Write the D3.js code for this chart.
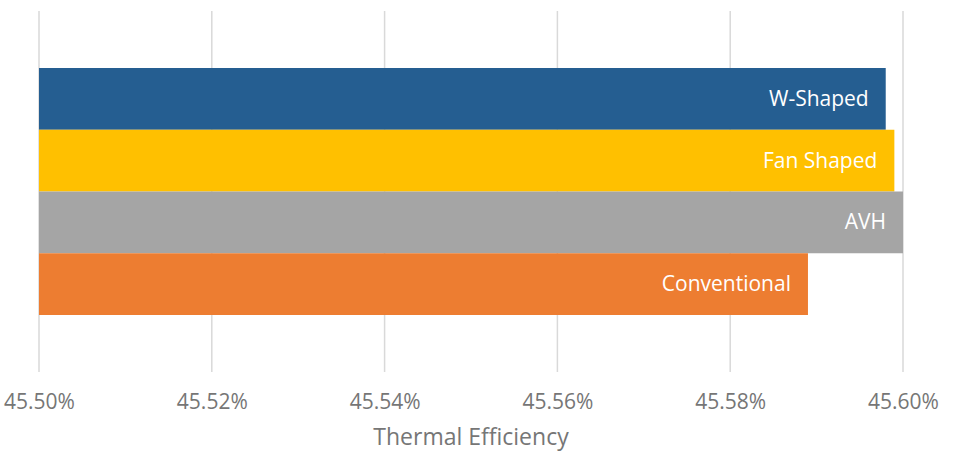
<!DOCTYPE html>
<html>
<head>
<meta charset="utf-8">
<script src="https://cdn.jsdelivr.net/npm/d3@7"></script>
<style>
  body { margin: 0; background: #fff; }
  svg { display: block; font-family: "Open Sans", sans-serif; }
</style>
</head>
<body>
<div id="chart"></div>
<script>
// series listed top to bottom as drawn
const series = ["W-Shaped", "Fan Shaped", "AVH", "Conventional"];
const values = [0.45598, 0.45599, 0.45600, 0.45589];
const colors = ["#255e91", "#ffc000", "#a5a5a5", "#ed7d31"];
const ticks = [0.4550, 0.4552, 0.4554, 0.4556, 0.4558, 0.4560];
const axisTitle = "Thermal Efficiency";

const width = 955;
const height = 452;
const plot = { left: 39, right: 903, top: 11, bottom: 372 };

const svg = d3.select("#chart")
  .append("svg")
  .attr("width", width)
  .attr("height", height);

const x = d3.scaleLinear()
  .domain([0.4550, 0.4560])
  .range([plot.left, plot.right]);

const y = d3.scaleBand()
  .domain(series)
  .range([68, 315])
  .padding(0);

// gridlines
svg.append("g")
  .selectAll("line")
  .data(ticks)
  .join("line")
  .attr("x1", (d) => x(d))
  .attr("x2", (d) => x(d))
  .attr("y1", plot.top)
  .attr("y2", plot.bottom)
  .attr("stroke", "#d9d9d9")
  .attr("stroke-width", 1.5);

// bars
svg.append("g")
  .selectAll("rect")
  .data(series)
  .join("rect")
  .attr("x", x(0.4550))
  .attr("y", (d) => y(d))
  .attr("width", (d, i) => x(values[i]) - x(0.4550))
  .attr("height", y.bandwidth())
  .attr("fill", (d, i) => colors[i]);

// inside-end labels
svg.append("g")
  .selectAll("text")
  .data(series)
  .join("text")
  .attr("x", (d, i) => x(values[i]) - 17)
  .attr("y", (d) => y(d) + y.bandwidth() / 2 + 7)
  .attr("text-anchor", "end")
  .attr("fill", "#fff")
  .attr("font-size", 21)
  .text((d) => d);

// x axis labels
const axis = d3.axisBottom(x)
  .tickValues(ticks)
  .tickSize(0)
  .tickPadding(0)
  .tickFormat(d3.format(".2%"));

const gx = svg.append("g")
  .attr("transform", `translate(0,${plot.bottom})`)
  .call(axis);
gx.select(".domain").remove();
gx.selectAll("text")
  .attr("y", 37)
  .attr("dy", null)
  .attr("font-size", 21)
  .attr("font-family", "'Open Sans', sans-serif")
  .attr("fill", "#767676");

svg.append("text")
  .attr("x", (plot.left + plot.right) / 2)
  .attr("y", 445)
  .attr("text-anchor", "middle")
  .attr("font-size", 23)
  .attr("fill", "#767676")
  .text(axisTitle);
</script>
</body>
</html>
